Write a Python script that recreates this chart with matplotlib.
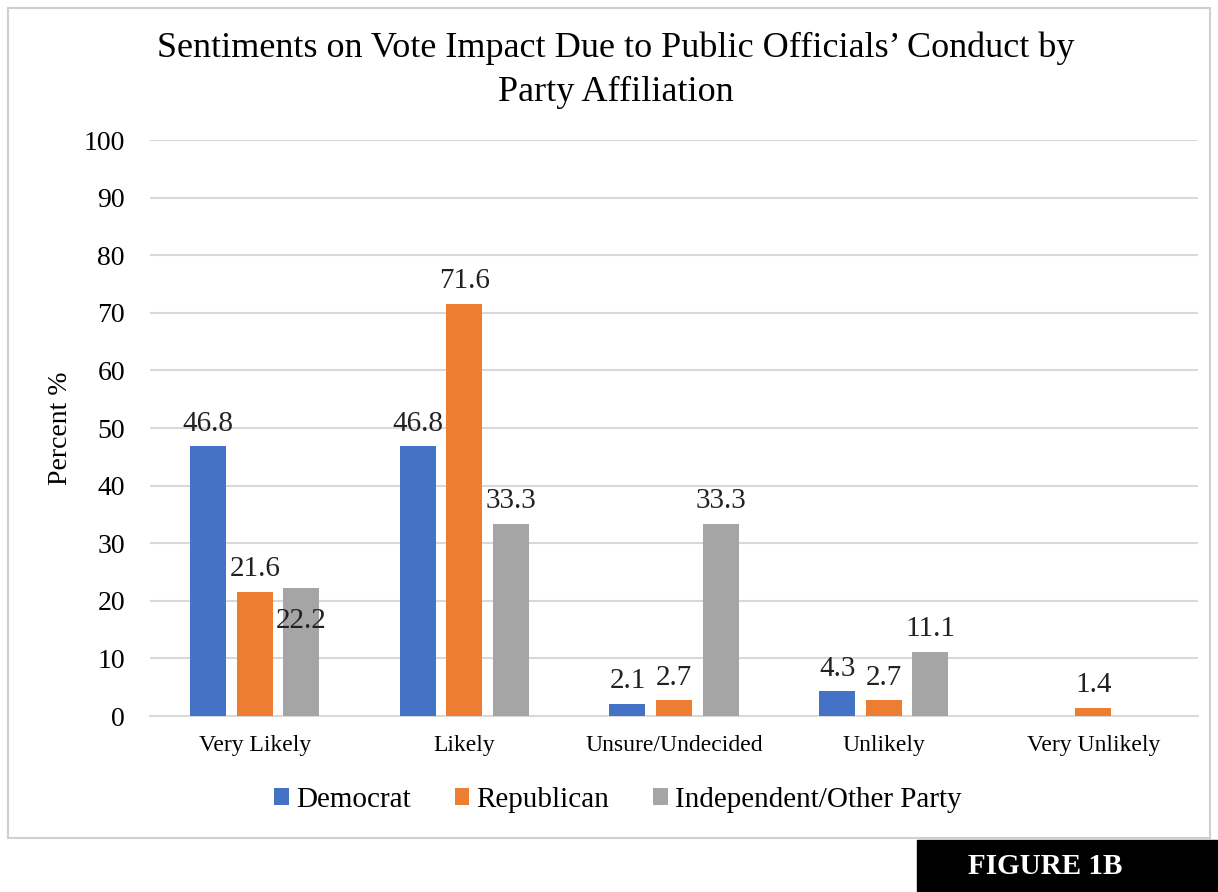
"""Bar chart of vote-impact sentiment by party affiliation."""

import matplotlib
import matplotlib.pyplot as plt
import numpy as np
from matplotlib.patches import Rectangle

matplotlib.use("Agg")

plt.rcParams["font.family"] = ["Liberation Serif", "DejaVu Serif"]

categories = ["Very Likely", "Likely", "Unsure/Undecided", "Unlikely", "Very Unlikely"]
democrat = [46.8, 46.8, 2.1, 4.3, 0.0]
republican = [21.6, 71.6, 2.7, 2.7, 1.4]
independent = [22.2, 33.3, 33.3, 11.1, 0.0]
series_names = ["Democrat", "Republican", "Independent/Other Party"]
colors = ["#4472C4", "#ED7D31", "#A5A5A5"]
y_ticks = list(range(0, 101, 10))

W, H = 1218, 892
fig = plt.figure(figsize=(W / 100, H / 100), dpi=100)

# outer chart frame
fig.patches.append(
    Rectangle((8 / W, (H - 838) / H), 1202 / W, 830 / H, transform=fig.transFigure,
              fill=False, edgecolor="#d0d0d0", linewidth=1.5)
)

ax = fig.add_axes([150 / W, (H - 716) / H, 1048 / W, 576 / H])

x = np.arange(len(categories))
width = 0.172
offsets = [-0.222, 0.0, 0.222]
# per-label vertical shift in points (a crowded label gets pushed down)
label_shift = {(2, 0): -40}

for s, (name, values, color) in enumerate(zip(series_names, [democrat, republican, independent], colors)):
    bars = ax.bar(x + offsets[s], values, width, color=color, label=name, zorder=3)
    for i, (bar, v) in enumerate(zip(bars, values)):
        if v == 0:
            continue
        ax.annotate(
            f"{v:.1f}",
            (bar.get_x() + bar.get_width() / 2, v),
            xytext=(0, 7 + label_shift.get((s, i), 0)),
            textcoords="offset points",
            ha="center", va="bottom", fontsize=21, color="#222222",
        )

ax.set_xlim(-0.5, len(categories) - 0.5)
ax.set_ylim(0, 100)
ax.set_yticks(y_ticks)
ax.set_xticks(x)
ax.set_xticklabels(categories, fontsize=17)
ax.tick_params(axis="y", labelsize=20, length=0, pad=18)
ax.tick_params(axis="x", length=0, pad=14)
ax.grid(axis="y", color="#d9d9d9", linewidth=1.5, zorder=0)
for side in ["top", "right", "left"]:
    ax.spines[side].set_visible(False)
ax.spines["bottom"].set_color("#d9d9d9")
ax.spines["bottom"].set_linewidth(1.5)

ax.set_ylabel("Percent %", fontsize=20, labelpad=8)

fig.text(616 / W, (H - 57) / H, "Sentiments on Vote Impact Due to Public Officials\u2019 Conduct by",
         ha="center", va="baseline", fontsize=26)
fig.text(616 / W, (H - 101) / H, "Party Affiliation",
         ha="center", va="baseline", fontsize=26)

fig.legend(loc="center", bbox_to_anchor=(618 / W, (H - 800) / H), ncol=3, frameon=False,
           fontsize=21, handlelength=0.5, handleheight=0.5, handletextpad=0.25,
           columnspacing=1.5)

# figure tag box
fig.patches.append(
    Rectangle((917 / W, 1 / H), 301 / W, 51 / H, transform=fig.transFigure,
              facecolor="black", edgecolor="black")
)
fig.text(1045 / W, (H - 866) / H, "FIGURE 1B", color="white", fontweight="bold",
         fontsize=21, ha="center", va="center")

fig.savefig("out.png", dpi=100)
plt.close(fig)
